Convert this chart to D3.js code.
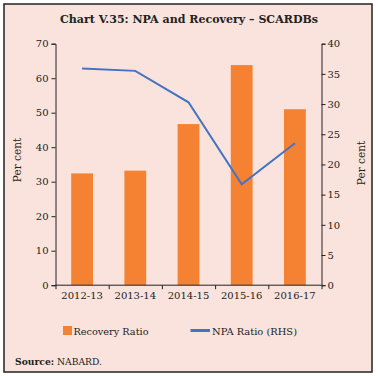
<!DOCTYPE html>
<html><head><meta charset="utf-8">
<script src="https://cdn.jsdelivr.net/npm/d3@7"></script>
<style>body{margin:0;background:#fff}svg{display:block}text{font-family:"DejaVu Serif",serif;fill:#222}</style>
</head><body>
<svg id="c" width="378" height="376"></svg>
<script>
const categories = ["2012-13","2013-14","2014-15","2015-16","2016-17"];
const recoveryRatio = [32.4, 33.2, 46.7, 63.8, 51.0];
const npaRatio = [35.9, 35.5, 30.3, 16.7, 23.5];
const leftTicks = [0,10,20,30,40,50,60,70];
const rightTicks = [0,5,10,15,20,25,30,35,40];

const svg = d3.select("#c");
svg.append("rect").attr("x",4).attr("y",4).attr("width",368).attr("height",368)
  .attr("fill","#f9e3dc").attr("stroke","#222").attr("stroke-width",1.5);

svg.append("text").attr("x",189).attr("y",23).attr("text-anchor","middle")
  .attr("font-weight","bold").attr("font-size",11.5).attr("textLength",258).attr("lengthAdjust","spacingAndGlyphs")
  .text("Chart V.35: NPA and Recovery – SCARDBs");

const L = 55.5, R = 321.5, T = 43.7, B = 285.2;
const x = d3.scaleBand().domain(categories).range([L,R]).paddingInner(0.59).paddingOuter(0.295);
const xp = d3.scalePoint().domain(categories).range([L,R]).padding(0.5);
const yL = d3.scaleLinear().domain([0,70]).range([B,T]);
const yR = d3.scaleLinear().domain([0,40]).range([B,T]);

svg.selectAll(".bar").data(recoveryRatio).enter().append("rect")
  .attr("x",(d,i)=>x(categories[i])).attr("width",x.bandwidth())
  .attr("y",d=>yL(d)).attr("height",d=>B-yL(d)).attr("fill","#f58232");

svg.append("path").datum(npaRatio)
  .attr("d",d3.line().x((d,i)=>xp(categories[i])).y(d=>yR(d)))
  .attr("fill","none").attr("stroke","#4472c4").attr("stroke-width",2);

const axL = svg.append("g").attr("transform",`translate(${L},0)`)
  .call(d3.axisLeft(yL).tickValues(leftTicks).tickSize(4).tickPadding(3));
const axR = svg.append("g").attr("transform",`translate(${R},0)`)
  .call(d3.axisRight(yR).tickValues(rightTicks).tickSize(4).tickPadding(2));
const xTickScale = d3.scaleLinear().domain([0,5]).range([L,R]);
const axB = svg.append("g").attr("transform",`translate(0,${B})`)
  .call(d3.axisBottom(xTickScale).ticks(5).tickSize(4).tickFormat(""));
axB.select(".domain").attr("d",`M${L},0H${R}`);
svg.append("g").selectAll("text").data(categories).enter().append("text")
  .attr("x",d=>xp(d)).attr("y",299).attr("text-anchor","middle").attr("font-size",10).text(d=>d);
[axL,axR,axB].forEach(g=>{
  g.selectAll("path,line").attr("stroke","#222");
  g.selectAll("text").attr("font-family","DejaVu Serif, serif").attr("font-size",10).attr("fill","#222");
  g.select(".domain").attr("stroke-width",1);
});

svg.append("text").attr("transform","translate(21,160) rotate(-90)").attr("text-anchor","middle")
  .attr("font-family","Liberation Serif, serif").attr("font-size",10.5).text("Per cent");
svg.append("text").attr("transform","translate(365,163) rotate(-90)").attr("text-anchor","middle")
  .attr("font-family","Liberation Serif, serif").attr("font-size",10.5).text("Per cent");

svg.append("rect").attr("x",63).attr("y",326).attr("width",9).attr("height",9).attr("fill","#f58232");
svg.append("text").attr("x",73.5).attr("y",334.5).attr("font-size",10).attr("textLength",75).attr("lengthAdjust","spacingAndGlyphs").text("Recovery Ratio");
svg.append("line").attr("x1",190.5).attr("x2",210).attr("y1",330.5).attr("y2",330.5)
  .attr("stroke","#4472c4").attr("stroke-width",3);
svg.append("text").attr("x",212).attr("y",334.5).attr("font-size",10).attr("textLength",85).attr("lengthAdjust","spacingAndGlyphs").text("NPA Ratio (RHS)");

const src = svg.append("text").attr("x",15).attr("y",365).attr("font-size",10).attr("textLength",87).attr("lengthAdjust","spacingAndGlyphs");
src.append("tspan").attr("font-weight","bold").text("Source:");
src.append("tspan").text(" NABARD.");
</script>
</body></html>
